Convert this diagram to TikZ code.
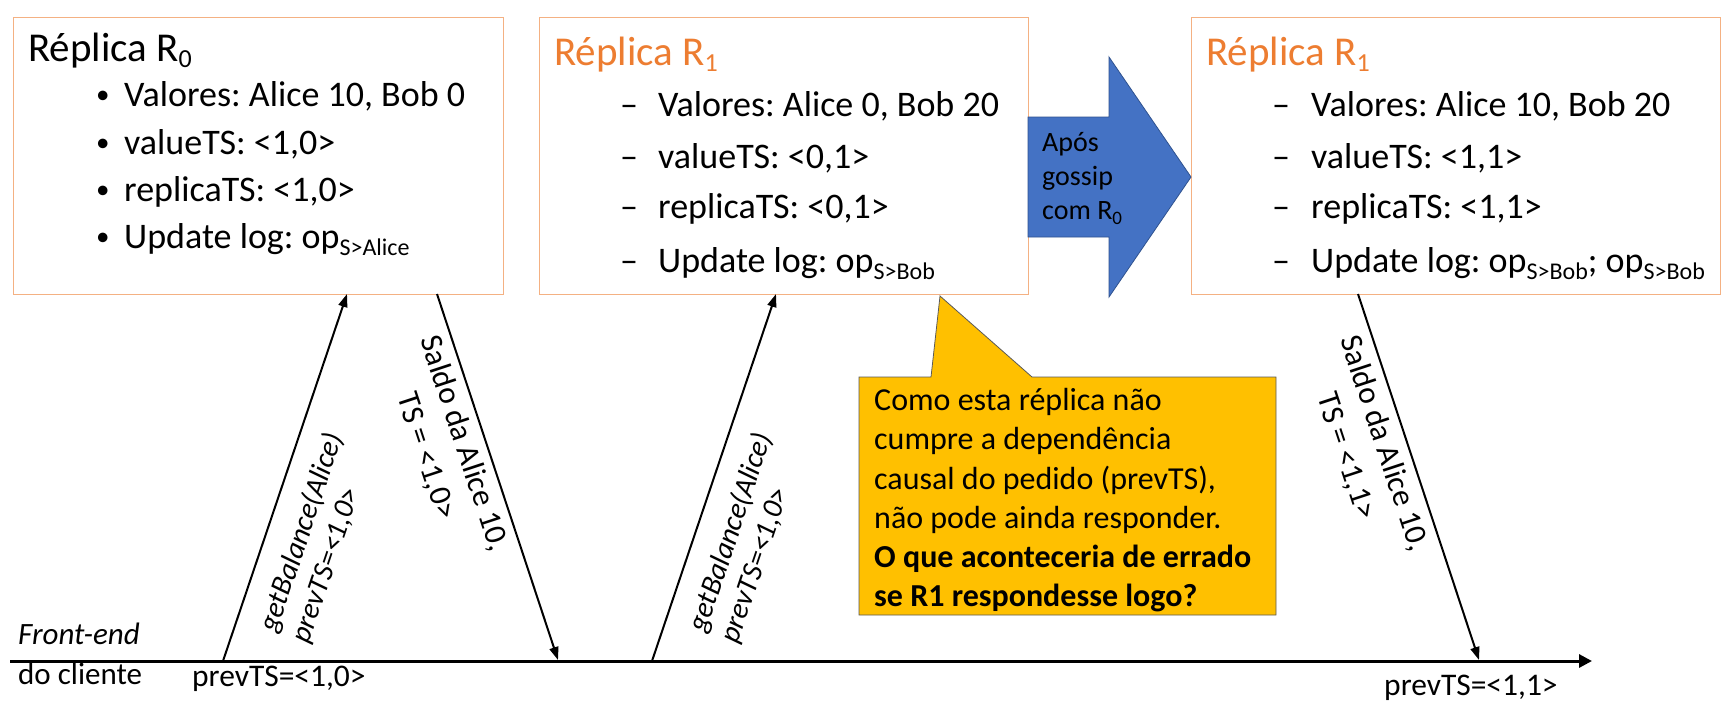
\documentclass[tikz,border=0pt]{standalone}
\usepackage{fontspec}
\setmainfont{Carlito}
\usetikzlibrary{arrows.meta}
\frenchspacing
\definecolor{boxborder}{HTML}{F4B183}
\definecolor{titleorange}{HTML}{ED7D31}
\definecolor{callyellow}{HTML}{FFC000}
\definecolor{calledge}{HTML}{595959}
\definecolor{gossipblue}{HTML}{4472C4}
\definecolor{gossipedge}{HTML}{2F528F}
\newcommand{\fs}[2]{\fontsize{#1pt}{#2pt}\selectfont}
\newcommand{\lowsub}[3]{\raisebox{-#1pt}{\fs{#2}{#2}#3}}
\tikzset{
  replbox/.style={draw=boxborder, line width=1.3pt, fill=white, anchor=north west, inner sep=0pt},
  txt/.style={anchor=base west, inner sep=0pt, text=black},
  titletxt/.style={txt, font=\fs{41}{41}},
  itemtxt/.style={txt, font=\fs{36}{36}},
  calltxt/.style={txt, font=\fs{32}{32}},
  msg/.style={line width=2pt, -{Triangle[length=13pt,width=9pt]}},
  reqlabel/.style={inner sep=0pt, font=\fs{29.5}{34}\itshape, align=left},
  replylabel/.style={inner sep=0pt, font=\fs{31.5}{40}, align=center},
}
\newcommand{\bul}{\makebox[28pt][l]{\raisebox{3pt}{\fs{27}{27}•}}}
\newcommand{\dsha}{\makebox[38pt][l]{–}}
\newcommand{\dshb}{\makebox[39pt][l]{–}}
\begin{document}
\begin{tikzpicture}[x=1pt,y=-1pt]
\useasboundingbox (0,0) rectangle (1734,705);
\fill[white] (0,0) rectangle (1734,705);

% replica boxes
\node[replbox, minimum width=490pt, minimum height=277pt] (r0) at (13,17) {};
\node[replbox, minimum width=489pt, minimum height=277pt] (r1a) at (539,17) {};
\node[replbox, minimum width=529pt, minimum height=277pt] (r1b) at (1191,17) {};

% R0 text
\node[titletxt] (r0t) at (28,61) {Réplica R\lowsub{6}{26}{0}};
\node[itemtxt] (r0i1) at (96,106) {\bul Valores: Alice 10, Bob 0};
\node[itemtxt] (r0i2) at (96,154) {\bul valueTS: <1,0>};
\node[itemtxt] (r0i3) at (96,201) {\bul replicaTS: <1,0>};
\node[itemtxt] (r0i4) at (96,248) {\bul Update log: op\lowsub{7}{24}{S>Alice}};

% R1 (before) text
\node[titletxt, text=titleorange] (r1at) at (554,65) {Réplica R\lowsub{6}{26}{1}};
\node[itemtxt] (r1ai1) at (620,116) {\dsha Valores: Alice 0, Bob 20};
\node[itemtxt] (r1ai2) at (620,168) {\dsha valueTS: <0,1>};
\node[itemtxt] (r1ai3) at (620,218) {\dsha replicaTS: <0,1>};
\node[itemtxt] (r1ai4) at (620,272) {\dsha Update log: op\lowsub{7}{24}{S>Bob}};

% R1 (after) text
\node[titletxt, text=titleorange] (r1bt) at (1206,65) {Réplica R\lowsub{6}{26}{1}};
\node[itemtxt] (r1bi1) at (1272,116) {\dshb Valores: Alice 10, Bob 20};
\node[itemtxt] (r1bi2) at (1272,168) {\dshb valueTS: <1,1>};
\node[itemtxt] (r1bi3) at (1272,218) {\dshb replicaTS: <1,1>};
\node[itemtxt] (r1bi4) at (1272,272) {\dshb Update log: op\lowsub{7}{24}{S>Bob}; op\lowsub{7}{24}{S>Bob}};

% gossip block arrow
\path[draw=gossipedge, fill=gossipblue, line width=0.8pt]
  (1028,117) -- (1109,117) -- (1109,57) -- (1191,177) -- (1109,297) -- (1109,237) -- (1028,237) -- cycle;
\node[txt, font=\fs{28}{28}] (g1) at (1042,151) {Após};
\node[txt, font=\fs{28}{28}] (g2) at (1042,185) {gossip};
\node[txt, font=\fs{28}{28}] (g3) at (1042,219) {com R\lowsub{5}{19}{0}};

% callout
\path[draw=calledge, fill=callyellow, line width=0.8pt]
  (859,377) -- (931,377) -- (940,296) -- (1032,377) -- (1276,377) -- (1276,615) -- (859,615) -- cycle;
\node[calltxt] (c1) at (874,410) {Como esta réplica não};
\node[calltxt] (c2) at (874,449) {cumpre a dependência};
\node[calltxt] (c3) at (874,489) {causal do pedido (prevTS),};
\node[calltxt] (c4) at (874,528) {não pode ainda responder.};
\node[calltxt, font=\fs{32}{32}\bfseries] (c5) at (874,567) {O que aconteceria de errado};
\node[calltxt, font=\fs{32}{32}\bfseries] (c6) at (874,606) {se R1 respondesse logo?};

% timeline
\coordinate (tl0) at (10,661);
\coordinate (tl1) at (1592,661);
\draw[line width=3pt, -{Triangle[length=13pt,width=13pt]}] (tl0) -- (tl1);
\node[txt, font=\fs{31}{31}\itshape] (fe1) at (18,644) {Front-end};
\node[txt, font=\fs{31}{31}] (fe2) at (18,684) {do cliente};
\node[txt, font=\fs{31.5}{31.5}] (pv1) at (192,686) {prevTS=<1,0>};
\node[txt, font=\fs{31.5}{31.5}] (pv2) at (1384,695) {prevTS=<1,1>};

% messages
\coordinate (t1) at (223,661);
\coordinate (b1) at (347,294);
\coordinate (b2) at (437,294);
\coordinate (t2) at (558,660);
\coordinate (t3) at (652,661);
\coordinate (b3) at (776,294);
\coordinate (b4) at (1358,294);
\coordinate (t4) at (1479,660);
\draw[msg] (t1) -- (b1);
\draw[msg] (b2) -- (t2);
\draw[msg] (t3) -- (b3);
\draw[msg] (b4) -- (t4);

\node[reqlabel, rotate=71.3] (l1) at (318,538) {getBalance(Alice)\\prevTS=<1,0>};
\node[replylabel, rotate=-71.75] (l2) at (445,450) {Saldo da Alice 10,\\TS = <1,0>};
\node[reqlabel, rotate=71.3] (l3) at (747,538) {getBalance(Alice)\\prevTS=<1,0>};
\node[replylabel, rotate=-71.75] (l4) at (1365,450) {Saldo da Alice 10,\\TS = <1,1>};
\end{tikzpicture}
\end{document}
